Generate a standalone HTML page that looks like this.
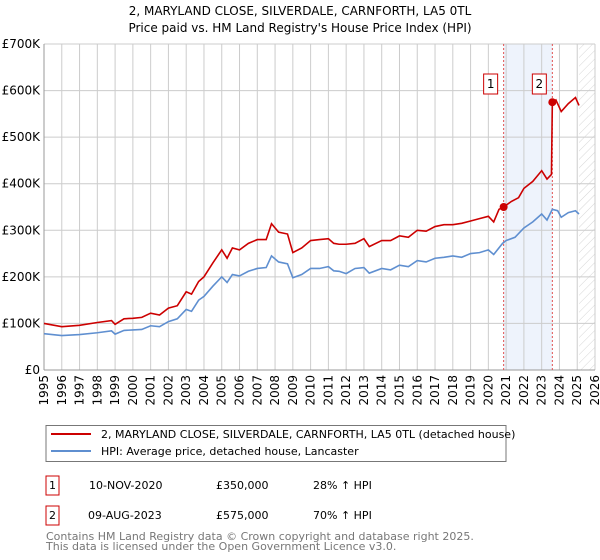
<!DOCTYPE html>
<html><head><meta charset="utf-8"><style>
body{margin:0;background:#fff;font-family:"DejaVu Sans","Liberation Sans",sans-serif;}
svg{display:block;font-family:"DejaVu Sans","Liberation Sans",sans-serif}
</style></head><body>
<svg id="c" width="600" height="560" xmlns="http://www.w3.org/2000/svg">
<defs><pattern id="hatch" width="6" height="6" patternUnits="userSpaceOnUse" patternTransform="rotate(45)"><line x1="0" y1="0" x2="0" y2="6" stroke="#ccc" stroke-width="0.8"/></pattern></defs>
<text x="300" y="15" text-anchor="middle" font-size="12">2, MARYLAND CLOSE, SILVERDALE, CARNFORTH, LA5 0TL</text>
<text x="300" y="32" text-anchor="middle" font-size="12">Price paid vs. HM Land Registry's House Price Index (HPI)</text>
<g id="plot"></g>
<rect x="46" y="425.5" width="460" height="36" fill="#fff" stroke="#777"/>
<line x1="51" y1="434" x2="91" y2="434" stroke="#cc0000" stroke-width="2"/>
<text x="101" y="438" font-size="11">2, MARYLAND CLOSE, SILVERDALE, CARNFORTH, LA5 0TL (detached house)</text>
<line x1="51" y1="451" x2="91" y2="451" stroke="#5f8fd0" stroke-width="2"/>
<text x="101" y="455" font-size="11">HPI: Average price, detached house, Lancaster</text>
<rect x="46" y="476" width="13" height="19" fill="none" stroke="#cc0000"/>
<text x="52.5" y="489" font-size="11" text-anchor="middle">1</text>
<text x="89" y="489" font-size="11">10-NOV-2020</text>
<text x="216" y="489" font-size="11">£350,000</text>
<text x="313" y="489" font-size="11">28% ↑ HPI</text>
<rect x="46" y="506" width="13" height="19" fill="none" stroke="#cc0000"/>
<text x="52.5" y="519" font-size="11" text-anchor="middle">2</text>
<text x="88" y="519" font-size="11">09-AUG-2023</text>
<text x="216" y="519" font-size="11">£575,000</text>
<text x="313" y="519" font-size="11">70% ↑ HPI</text>
<text x="46" y="540" font-size="11" fill="#777">Contains HM Land Registry data © Crown copyright and database right 2025.</text>
<text x="46" y="550" font-size="11" fill="#777">This data is licensed under the Open Government Licence v3.0.</text>
</svg>
<script>
const yTicks=[0,100,200,300,400,500,600,700];
const yTickLabels=["£0","£100K","£200K","£300K","£400K","£500K","£600K","£700K"];
const xYears=[1995,1996,1997,1998,1999,2000,2001,2002,2003,2004,2005,2006,2007,2008,2009,2010,2011,2012,2013,2014,2015,2016,2017,2018,2019,2020,2021,2022,2023,2024,2025,2026];
const hpiT=[1995,1996,1997,1998,1998.8,1999,1999.5,2000,2000.5,2001,2001.5,2002,2002.5,2003,2003.3,2003.7,2004,2004.5,2005,2005.3,2005.6,2006,2006.5,2007,2007.5,2007.8,2008.2,2008.7,2009,2009.5,2010,2010.5,2011,2011.3,2011.6,2012,2012.5,2013,2013.3,2014,2014.5,2015,2015.5,2016,2016.5,2017,2017.5,2018,2018.5,2019,2019.5,2020,2020.3,2020.8,2021,2021.5,2022,2022.5,2023,2023.3,2023.6,2023.9,2024.1,2024.5,2024.9,2025.1];
const hpiV=[78,74,76,80,84,77,85,86,87,95,93,104,110,130,126,150,158,180,200,188,205,202,212,218,220,245,232,228,198,205,218,218,222,213,212,207,218,220,208,218,215,225,222,235,232,240,242,245,242,250,252,258,248,272,278,285,305,318,335,322,345,342,328,338,342,335];
const redT=[1995,1996,1997,1998,1998.8,1999,1999.5,2000,2000.5,2001,2001.5,2002,2002.5,2003,2003.3,2003.7,2004,2004.5,2005,2005.3,2005.6,2006,2006.5,2007,2007.5,2007.8,2008.2,2008.7,2009,2009.5,2010,2010.5,2011,2011.3,2011.6,2012,2012.5,2013,2013.3,2014,2014.5,2015,2015.5,2016,2016.5,2017,2017.5,2018,2018.5,2019,2019.5,2020,2020.3,2020.6,2020.86,2021.3,2021.7,2022,2022.5,2023,2023.3,2023.55,2023.6,2023.8,2024.1,2024.5,2024.9,2025.1];
const redV=[100,93,96,102,106,98,110,111,113,122,118,133,138,168,163,190,200,230,258,240,262,258,272,280,280,314,296,292,252,262,278,280,282,272,270,270,272,282,265,278,278,288,285,300,298,308,312,312,315,320,325,330,318,345,350,362,370,390,405,428,410,420,575,580,555,572,585,568];
const salesT=[2020.86,2023.6];
const salesV=[350,575];
const X0=44,X1=595,Y0=370,Y1=44;
const xs=t=>X0+(t-1995)/(2026-1995)*(X1-X0);
const ys=v=>Y0-v/700*(Y0-Y1);
const NS="http://www.w3.org/2000/svg";
const g=document.getElementById('plot');
function mk(tag,attrs,parent){const e=document.createElementNS(NS,tag);for(const k in attrs)e.setAttribute(k,attrs[k]);(parent||g).appendChild(e);return e;}
let e;
e=mk('rect',{x:xs(salesT[0]),y:Y1,width:xs(salesT[1])-xs(salesT[0]),height:Y0-Y1,fill:'#eef3fc'});


e=mk('rect',{x:xs(2025.1),y:Y1,width:X1-xs(2025.1),height:Y0-Y1,fill:'url(#hatch)'});


xYears.forEach(y=>{
 e=mk('line',{x1:xs(y),x2:xs(y),y1:Y1,y2:Y0,stroke:'#ccc','stroke-width':1});
 
 
 e=mk('text',{x:0,y:0,'font-size':12,'text-anchor':'end',transform:`translate(${xs(y)+4},${Y0+5}) rotate(-90)`});
 e.textContent=y;
 
 
});
yTicks.forEach((v,i)=>{
 e=mk('line',{x1:X0,x2:X1,y1:ys(v),y2:ys(v),stroke:'#ccc','stroke-width':1});
 
 
 e=mk('text',{x:X0-4,y:ys(v)+4,'font-size':12,'text-anchor':'end'});
 e.textContent=yTickLabels[i];
 
 
});
e=mk('line',{x1:X0,x2:X0,y1:Y1,y2:Y0,stroke:'#999'});


e=mk('line',{x1:X0,x2:X1,y1:Y0,y2:Y0,stroke:'#999'});


salesT.forEach((t,i)=>{
 e=mk('line',{x1:xs(t),x2:xs(t),y1:Y1,y2:Y0,stroke:'#e05050','stroke-dasharray':'2,2','stroke-width':1});
 
 
});
e=mk('polyline',{points:hpiT.map((t,i)=>xs(t)+','+ys(hpiV[i])).join(' '),fill:'none',stroke:'#5f8fd0','stroke-width':1.6});


e=mk('polyline',{points:redT.map((t,i)=>xs(t)+','+ys(redV[i])).join(' '),fill:'none',stroke:'#cc0000','stroke-width':1.6});


salesT.forEach((t,i)=>{
 e=mk('circle',{cx:xs(t),cy:ys(salesV[i]),r:4,fill:'#cc0000'});
 
 
 e=mk('rect',{x:xs(t)-20,y:74,width:14,height:20,fill:'#fff',stroke:'#cc0000'});
 
 
 e=mk('text',{x:xs(t)-13,y:88,'font-size':12,'text-anchor':'middle'});
 e.textContent=String(i+1);
 
 
});
</script>
</body></html>
